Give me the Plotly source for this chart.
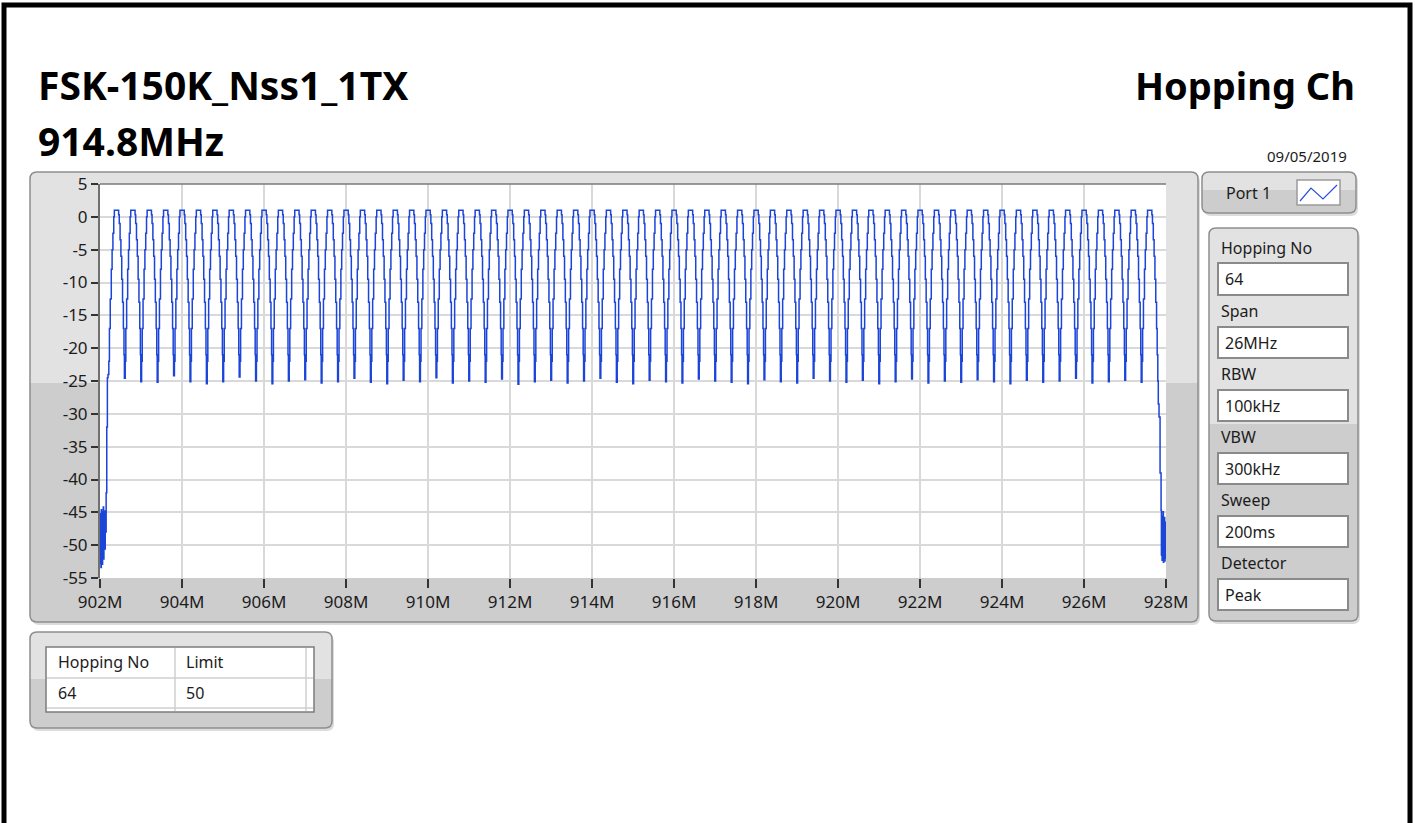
import plotly.graph_objects as go

# ---------------- data ----------------
CHANNELS_MHZ = [902.4, 902.8, 903.2, 903.6, 904.0, 904.4, 904.8, 905.2, 905.6, 906.0,
                906.4, 906.8, 907.2, 907.6, 908.0, 908.4, 908.8, 909.2, 909.6, 910.0,
                910.4, 910.8, 911.2, 911.6, 912.0, 912.4, 912.8, 913.2, 913.6, 914.0,
                914.4, 914.8, 915.2, 915.6, 916.0, 916.4, 916.8, 917.2, 917.6, 918.0,
                918.4, 918.8, 919.2, 919.6, 920.0, 920.4, 920.8, 921.2, 921.6, 922.0,
                922.4, 922.8, 923.2, 923.6, 924.0, 924.4, 924.8, 925.2, 925.6, 926.0,
                926.4, 926.8, 927.2, 927.6]

# stepped shape of one hopping channel (offset from channel centre, MHz / level, dBm)
HUMP_OFFSET_MHZ = [-0.185, -0.17, -0.15, -0.125, -0.105, -0.085, -0.065, -0.05,
                   0.055, 0.07, 0.09, 0.11, 0.13, 0.15, 0.17, 0.185]
HUMP_LEVEL_DB = [-22.0, -17.0, -12.5, -8.0, -5.0, -2.5, 0.0, 1.0,
                 0.3, -1.0, -3.5, -6.0, -9.5, -13.0, -17.0, -21.0]
VALLEY_OFFSET_MHZ = 0.195

VALLEY_DB = [-24.6, -25.1, -25.2, -24.2, -25.1, -25.4, -25.1, -24.4, -25.0, -25.4,
             -25.0, -24.8, -25.3, -25.1, -24.6, -25.2, -25.4, -24.9, -25.1, -24.5,
             -25.3, -25.0, -25.2, -24.7, -25.5, -25.1, -24.9, -25.3, -25.0, -24.6,
             -25.2, -25.4, -24.9, -25.1, -25.3, -24.7, -25.0, -25.2, -25.4, -24.8,
             -25.1, -25.3, -24.6, -25.0, -25.2, -24.9, -25.4, -25.1, -24.7, -25.3,
             -25.0, -25.2, -24.8, -25.1, -25.4, -24.9, -25.2, -25.0, -24.6, -25.3,
             -25.1, -24.9, -25.2]

LEFT_SKIRT_MHZ = [902.000, 902.008, 902.016, 902.024, 902.032, 902.040, 902.048, 902.056,
                  902.064, 902.072, 902.080, 902.088, 902.096, 902.104, 902.112, 902.120,
                  902.128, 902.136, 902.150, 902.165, 902.180, 902.195]
LEFT_SKIRT_DB = [-46.5, -52.8, -45.2, -53.4, -44.6, -51.7, -47.3, -52.9,
                 -45.0, -50.4, -44.2, -52.1, -46.8, -48.9, -44.8, -50.6,
                 -45.5, -48.0, -42.0, -32.0, -24.5, -24.0]

RIGHT_SKIRT_MHZ = [927.800, 927.812, 927.830, 927.855, 927.880, 927.888, 927.896, 927.904,
                   927.912, 927.920, 927.928, 927.936, 927.944, 927.952, 927.960, 927.968,
                   927.976, 927.984, 927.992, 928.000]
RIGHT_SKIRT_DB = [-25.0, -28.5, -30.5, -39.0, -44.7, -51.5, -45.6, -52.3,
                  -46.2, -50.8, -44.9, -52.6, -47.4, -51.9, -45.8, -52.4,
                  -49.0, -52.0, -46.5, -51.5]

X_TICKS = [902, 904, 906, 908, 910, 912, 914, 916, 918, 920, 922, 924, 926, 928]
X_TICK_TEXT = ["902M", "904M", "906M", "908M", "910M", "912M", "914M", "916M",
               "918M", "920M", "922M", "924M", "926M", "928M"]
Y_TICKS = [5, 0, -5, -10, -15, -20, -25, -30, -35, -40, -45, -50, -55]
Y_TICK_TEXT = ["5", "0", "-5", "-10", "-15", "-20", "-25", "-30", "-35", "-40",
               "-45", "-50", "-55"]

TITLE_1 = "FSK-150K_Nss1_1TX"
TITLE_2 = "914.8MHz"
TITLE_RIGHT = "Hopping Ch"
DATE = "09/05/2019"
LEGEND_NAME = "Port 1"
SETTING_LABELS = ["Hopping No", "Span", "RBW", "VBW", "Sweep", "Detector"]
SETTING_VALUES = ["64", "26MHz", "100kHz", "300kHz", "200ms", "Peak"]
TABLE_HEADER = ["Hopping No", "Limit"]
TABLE_ROW = ["64", "50"]

# ---------------- build trace ----------------
xs = list(LEFT_SKIRT_MHZ)
ys = list(LEFT_SKIRT_DB)
for i, c in enumerate(CHANNELS_MHZ):
    for off, lev in zip(HUMP_OFFSET_MHZ, HUMP_LEVEL_DB):
        xs.append(round(c + off, 4))
        ys.append(lev)
    if i < len(VALLEY_DB):
        xs.append(round(c + VALLEY_OFFSET_MHZ, 4))
        ys.append(VALLEY_DB[i])
xs += RIGHT_SKIRT_MHZ
ys += RIGHT_SKIRT_DB

# ---------------- layout helpers (pixel -> paper) ----------------
W, H = 1415, 823
PL, PR, PT, PB = 100, 1166, 184, 578


def fx(px):
    return (px - PL) / (PR - PL)


def fy(py):
    return (PB - py) / (PB - PT)


def P(x, y):
    return f"{fx(x):.5f},{fy(y):.5f}"


def rr_path(x0, y0, x1, y1, r):
    return (f"M {P(x0 + r, y0)} L {P(x1 - r, y0)} Q {P(x1, y0)} {P(x1, y0 + r)} "
            f"L {P(x1, y1 - r)} Q {P(x1, y1)} {P(x1 - r, y1)} "
            f"L {P(x0 + r, y1)} Q {P(x0, y1)} {P(x0, y1 - r)} "
            f"L {P(x0, y0 + r)} Q {P(x0, y0)} {P(x0 + r, y0)} Z")


def top_path(x0, y0, x1, ys_, r):
    return (f"M {P(x0, ys_)} L {P(x0, y0 + r)} Q {P(x0, y0)} {P(x0 + r, y0)} "
            f"L {P(x1 - r, y0)} Q {P(x1, y0)} {P(x1, y0 + r)} L {P(x1, ys_)} Z")


shapes = []


def add_path(path, fill=None, line_color=None, lw=0, layer="below"):
    shapes.append(dict(type="path", path=path, xref="paper", yref="paper",
                       fillcolor=fill if fill else "rgba(0,0,0,0)",
                       line=dict(color=line_color if line_color else "rgba(0,0,0,0)",
                                 width=lw),
                       layer=layer))


def add_rect(x0, y0, x1, y1, fill=None, line_color=None, lw=0, layer="below"):
    shapes.append(dict(type="rect", xref="paper", yref="paper",
                       x0=fx(x0), x1=fx(x1), y0=fy(y1), y1=fy(y0),
                       fillcolor=fill if fill else "rgba(0,0,0,0)",
                       line=dict(color=line_color if line_color else "rgba(0,0,0,0)",
                                 width=lw),
                       layer=layer))


def add_line(x0, y0, x1, y1, color, lw, layer="below"):
    shapes.append(dict(type="line", xref="paper", yref="paper",
                       x0=fx(x0), x1=fx(x1), y0=fy(y0), y1=fy(y1),
                       line=dict(color=color, width=lw), layer=layer))


LIGHT = "#e2e2e2"
DARK = "#cdcdcd"
EDGE = "#8e8e8e"


def panel(x0, y0, x1, y1, split, r=7):
    add_path(rr_path(x0 + 2, y0 + 3, x1 + 2, y1 + 3, r), fill="#dcdcdc")
    add_path(rr_path(x0, y0, x1, y1, r), fill=DARK)
    add_path(top_path(x0, y0, x1, split, r), fill=LIGHT)
    add_path(rr_path(x0, y0, x1, y1, r), line_color=EDGE, lw=1.5)


# page frame
add_rect(4, 5, 1410, 840, line_color="black", lw=5)

# main graph panel
panel(30, 172, 1198, 622, 383)
# white plotting area
add_rect(PL, PT, PR, PB, fill="white")
# legend panel
panel(1202, 172, 1356, 213, 190)
add_rect(1297, 180, 1340, 205, fill="white", line_color="#9a9a9a", lw=1.5)
shapes.append(dict(type="path", xref="paper", yref="paper",
                   path=f"M {P(1300, 201)} L {P(1311, 188)} L {P(1323, 199)} L {P(1337, 185)}",
                   line=dict(color="#2a4fd8", width=1.2), layer="below"))

# settings panel
panel(1209, 228, 1358, 621, 424)
label_y = [248, 311, 374, 437, 500, 563]
box_y = [(263, 295), (327, 358), (390, 421), (453, 484), (516, 547), (579, 610)]
for (b0, b1) in box_y:
    add_rect(1218, b0, 1348, b1, fill="white", line_color="#8a8a8a", lw=2)

# table panel
panel(30, 632, 332, 728, 679)
add_rect(46, 647, 314, 712, fill="white", line_color="#7c7c7c", lw=1.5)
add_line(47, 678, 313, 678, "#cfcfcf", 1.5)
add_line(47, 708, 313, 708, "#cfcfcf", 1.5)
add_line(175, 648, 175, 711, "#cfcfcf", 1.5)
add_line(306, 648, 306, 711, "#cfcfcf", 1.5)

# top edge of plotting area (inset look)
add_line(PL, PT, PR, PT, "#7a7a7a", 1.5, layer="above")

# ---------------- annotations ----------------
ann = []
FONT = "Noto Sans"
TXT = "#1c1c1c"


def text(t, x, y, size, anchor="left", bold=False, color=TXT):
    ann.append(dict(text=f"<b>{t}</b>" if bold else t, x=fx(x), y=fy(y),
                    xref="paper", yref="paper", xanchor=anchor, yanchor="middle",
                    showarrow=False, font=dict(family=FONT, size=size, color=color)))


text(TITLE_1, 36, 85, 39, bold=True, color="black")
text(TITLE_2, 36, 141, 39, bold=True, color="black")
text(TITLE_RIGHT, 1357, 85, 38, anchor="right", bold=True, color="black")
text(DATE, 1349, 156, 15, anchor="right")
text(LEGEND_NAME, 1224, 193, 16)
for lab, val, ly, (b0, b1) in zip(SETTING_LABELS, SETTING_VALUES, label_y, box_y):
    text(lab, 1219, ly, 16)
    text(val, 1223, (b0 + b1) / 2, 16)
text(TABLE_HEADER[0], 56, 662, 16)
text(TABLE_HEADER[1], 184, 662, 16)
text(TABLE_ROW[0], 56, 693, 16)
text(TABLE_ROW[1], 184, 693, 16)

# ---------------- figure ----------------
fig = go.Figure()
fig.add_trace(go.Scatter(x=xs, y=ys, mode="lines",
                         line=dict(color="#1b44d8", width=1.5, shape="hv"),
                         hoverinfo="skip", showlegend=False))

fig.update_layout(
    width=W, height=H,
    margin=dict(l=PL, r=W - PR, t=PT, b=H - PB, pad=0),
    paper_bgcolor="white", plot_bgcolor="white",
    shapes=shapes, annotations=ann, showlegend=False,
    xaxis=dict(range=[902, 928], tickvals=X_TICKS, ticktext=X_TICK_TEXT,
               showgrid=True, gridcolor="#d9d9d9", gridwidth=1.5, zeroline=False,
               showline=False, ticks="outside", ticklen=9, tickwidth=1.5, tickcolor="#333333",
               tickfont=dict(family=FONT, size=17, color=TXT)),
    yaxis=dict(range=[-55, 5], tickvals=Y_TICKS, ticktext=Y_TICK_TEXT,
               showgrid=True, gridcolor="#d9d9d9", gridwidth=1.5, zeroline=False,
               showline=True, linecolor="#707070", linewidth=2,
               ticks="outside", ticklen=7, tickwidth=1.5, tickcolor="#333333",
               tickfont=dict(family=FONT, size=17, color=TXT)),
)

fig.write_html("out.html",
               config={"displayModeBar": False},
               post_script="document.body.style.margin='0';document.body.style.overflow='hidden';")
